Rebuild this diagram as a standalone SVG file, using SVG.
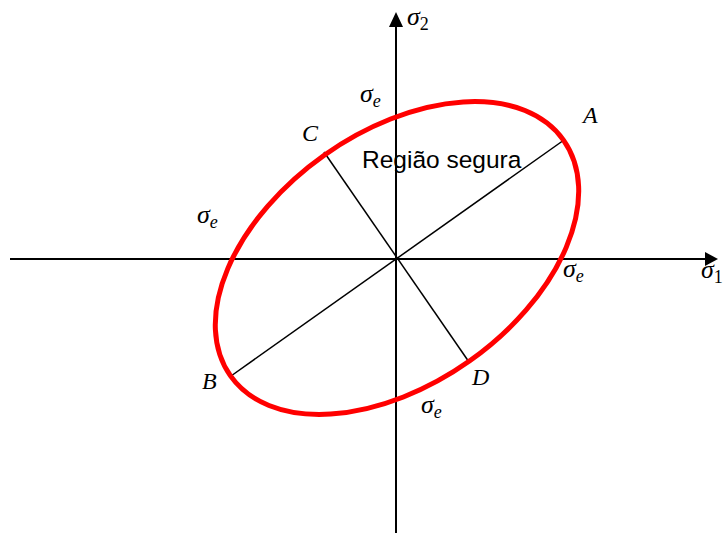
<svg xmlns="http://www.w3.org/2000/svg" width="723" height="533" viewBox="0 0 723 533">
<style>
.axis{stroke:#000;stroke-width:2;fill:none}
.diam{stroke:#000;stroke-width:1.5;fill:none}
.lbl{font-family:"Liberation Serif","Times New Roman",serif;font-style:italic;font-size:24px;fill:#000}
.sig{font-size:26px}
.sub{font-size:18px}
.up{font-style:normal}
.txt{font-family:"Liberation Sans",Arial,sans-serif;font-size:24.5px;fill:#000}
</style>
<rect width="723" height="533" fill="#fff"/>
<g id="axes">
<line class="axis" x1="10" y1="259" x2="708" y2="259"/>
<polygon points="718,259 705,252 705,266" fill="#000"/>
<line class="axis" x1="396" y1="533" x2="396" y2="24"/>
<polygon points="396,12 389,27 403,27" fill="#000"/>
</g>
<g id="connectors">
<line class="diam" x1="231" y1="376" x2="564" y2="140"/>
<line class="diam" x1="324" y1="152" x2="469" y2="362"/>
</g>
<g id="ellipse">
<ellipse cx="397" cy="258" rx="204" ry="126" transform="rotate(-35.3 397 258)" fill="none" stroke="#ff0000" stroke-width="5"/>
</g>
<g id="labels">
<text class="lbl sig" x="407" y="25">σ<tspan class="sub up" dy="5">2</tspan></text>
<text class="lbl sig" x="701" y="278">σ<tspan class="sub up" dy="5">1</tspan></text>
<text class="lbl sig" x="360" y="102">σ<tspan class="sub" dy="5">e</tspan></text>
<text class="lbl sig" x="197" y="223">σ<tspan class="sub" dy="5">e</tspan></text>
<text class="lbl sig" x="563" y="277">σ<tspan class="sub" dy="5">e</tspan></text>
<text class="lbl sig" x="421" y="413">σ<tspan class="sub" dy="5">e</tspan></text>
<text class="lbl" x="583" y="123">A</text>
<text class="lbl" x="302" y="141">C</text>
<text class="lbl" x="202" y="389">B</text>
<text class="lbl" x="472" y="385">D</text>
<text class="txt" x="362" y="168">Região segura</text>
</g>
</svg>
